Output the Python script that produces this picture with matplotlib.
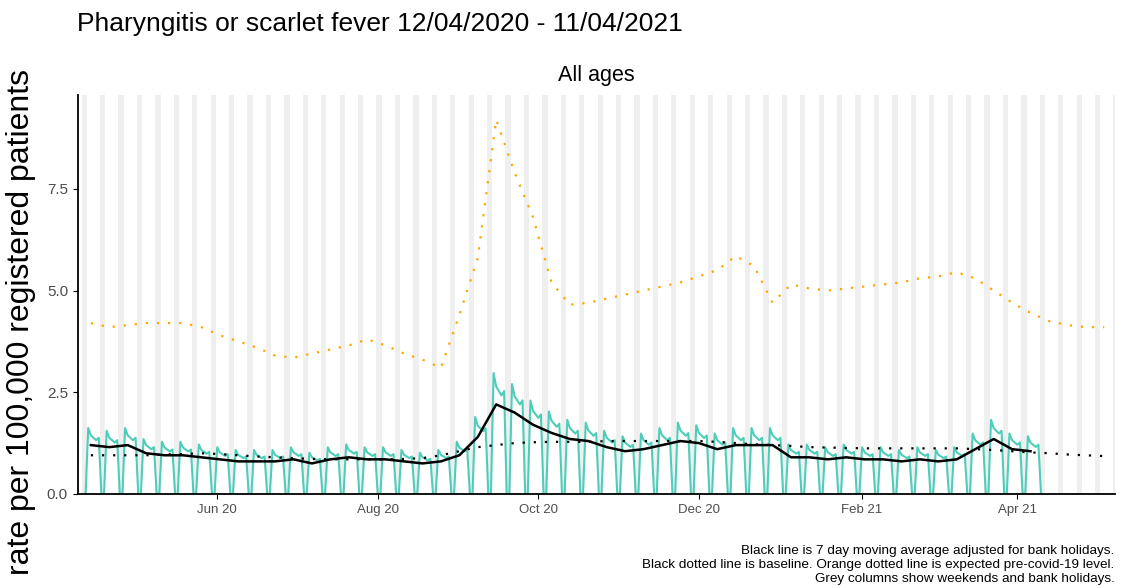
import matplotlib.pyplot as plt
import numpy as np
import pandas as pd

plt.rcParams['font.family'] = ['Liberation Sans', 'DejaVu Sans']

start = pd.Timestamp("2020-04-12")

# weekly 7-day average rate (black), week starting 12/04/2020
avg_rate = [1.2, 1.15, 1.2, 1.0, 0.95, 0.95, 0.9, 0.85, 0.8, 0.8, 0.8, 0.85, 0.75,
            0.85, 0.9, 0.85, 0.85, 0.8, 0.75, 0.8, 0.95, 1.4, 2.2, 2.0, 1.7, 1.5,
            1.35, 1.3, 1.15, 1.05, 1.1, 1.2, 1.3, 1.25, 1.1, 1.2, 1.2, 1.2, 0.9, 0.9,
            0.85, 0.9, 0.85, 0.85, 0.8, 0.85, 0.8, 0.85, 1.1, 1.35, 1.1, 1.05]
# weekday shape of the daily rate relative to the weekly average (Sun..Sat)
day_factor = [0.0, 1.35, 1.2, 1.15, 1.1, 1.15, 0.0]

baseline = [0.95, 0.95, 0.95, 0.95, 0.97, 0.98, 1.0, 0.98, 0.95, 0.92, 0.9, 0.88, 0.86,
            0.85, 0.85, 0.85, 0.85, 0.86, 0.88, 0.95, 1.05, 1.15, 1.2, 1.25, 1.27, 1.28,
            1.28, 1.28, 1.3, 1.3, 1.3, 1.3, 1.3, 1.3, 1.28, 1.25, 1.22, 1.2, 1.18, 1.15,
            1.14, 1.13, 1.12, 1.12, 1.12, 1.12, 1.12, 1.12, 1.1, 1.08, 1.05, 1.02, 1.0,
            0.97, 0.95, 0.93]
expected = [4.2, 4.1, 4.15, 4.2, 4.2, 4.2, 4.1, 3.9, 3.75, 3.6, 3.4, 3.35, 3.45, 3.55,
            3.65, 3.8, 3.65, 3.45, 3.3, 3.1, 4.4, 5.8, 9.2, 7.9, 6.8, 5.2, 4.65, 4.7,
            4.8, 4.9, 5.0, 5.1, 5.2, 5.35, 5.5, 5.85, 5.6, 4.7, 5.15, 5.05, 5.0, 5.05,
            5.1, 5.15, 5.2, 5.3, 5.35, 5.45, 5.3, 5.0, 4.7, 4.45, 4.25, 4.15, 4.1, 4.1]

days = pd.date_range(start, periods=len(avg_rate) * 7, freq="D")
daily = np.array([avg_rate[i // 7] * day_factor[i % 7] for i in range(len(days))])
week_mid = start + pd.to_timedelta(np.arange(len(avg_rate)) * 7 + 2, unit="D")
bw = start + pd.to_timedelta(np.arange(len(baseline)) * 7 + 2, unit="D")

fig, ax = plt.subplots(figsize=(11.26, 5.88), dpi=100)
fig.subplots_adjust(left=0.069, right=0.99, top=0.838, bottom=0.16)

x0, x1 = pd.Timestamp("2020-04-09"), pd.Timestamp("2021-05-08")
for d in pd.date_range(x0, x1, freq="D"):
    if d.weekday() >= 5:
        ax.axvspan(d - pd.Timedelta(hours=12), d + pd.Timedelta(hours=12),
                   color="#efefef", lw=0, zorder=0)

ax.plot(days, daily, color="#4ecdb9", lw=1.5, zorder=2)
ax.plot(week_mid, avg_rate, color="black", lw=1.8, zorder=3)
ax.plot(bw, baseline, color="black", lw=1.6, ls=(0, (1, 4)), zorder=3)
ax.plot(bw, expected, color="orange", lw=1.6, ls=(0, (1, 4)), zorder=3)

ax.set_xlim(x0, x1)
ax.set_ylim(0, 9.8)
ax.set_yticks([0, 2.5, 5, 7.5])
ax.set_yticklabels(["0.0", "2.5", "5.0", "7.5"], fontsize=11, color="#4d4d4d")
ticks = pd.to_datetime(["2020-06-01", "2020-08-01", "2020-10-01", "2020-12-01",
                        "2021-02-01", "2021-04-01"])
ax.set_xticks(ticks)
ax.set_xticklabels(["Jun 20", "Aug 20", "Oct 20", "Dec 20", "Feb 21", "Apr 21"],
                   fontsize=9.5, color="#4d4d4d")
for s in ["top", "right"]:
    ax.spines[s].set_visible(False)
ax.spines["left"].set_linewidth(1.3)
ax.spines["bottom"].set_linewidth(1.3)
ax.set_ylabel("rate per 100,000 registered patients", fontsize=23)
ax.yaxis.set_label_coords(-0.04, 0.43)
ax.set_title("All ages", fontsize=15.5, pad=10)
fig.text(0.068, 0.948, "Pharyngitis or scarlet fever 12/04/2020 - 11/04/2021", fontsize=19)
fig.text(0.99, 0.005, "Black line is 7 day moving average adjusted for bank holidays.\n"
         "Black dotted line is baseline. Orange dotted line is expected pre-covid-19 level.\n"
         "Grey columns show weekends and bank holidays.",
         ha="right", va="bottom", fontsize=9.7, linespacing=1.25)
fig.savefig("out.png")
